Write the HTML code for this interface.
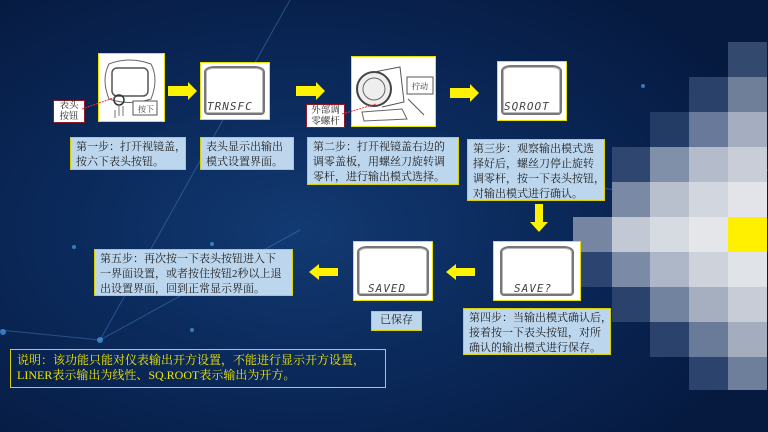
<!DOCTYPE html>
<html><head><meta charset="utf-8"><style>
*{margin:0;padding:0;box-sizing:border-box}
body{width:768px;height:432px;overflow:hidden;position:relative;
background:radial-gradient(ellipse 500px 300px at 300px 230px,#123a72 0%,#0b2a5c 45%,#061a40 100%);
font-family:"Liberation Serif","Noto Serif CJK SC",serif;}
.a{position:absolute}
.img{position:absolute;background:#fff;border:1.5px solid #e8e000}
.scr{position:absolute;border:2px solid #777;border-radius:10px 10px 4px 4px/6px 6px 4px 4px;background:#fff;box-shadow:inset 0 0 0 1px #bbb}
.lcd{position:absolute;font-family:"DejaVu Sans Mono","Liberation Mono",monospace;font-style:italic;color:#444;letter-spacing:1px;font-size:11px}
.tb{position:absolute;background:#bcd6ee;border:1.5px solid #d8d000;color:#222;font-size:11px;line-height:15px;padding:2px 5px;white-space:nowrap;overflow:hidden}
.rb{position:absolute;background:#fff;border:1.5px solid #8b1a2a;color:#222;font-size:9.5px;line-height:11px;text-align:center;white-space:nowrap}
.cell{position:absolute;width:39px;height:35px}
</style></head><body>
<svg class="a" style="left:0;top:0" width="768" height="432">
<g stroke="#4f86c8" stroke-opacity="0.45" stroke-width="1">
<line x1="100" y1="340" x2="290" y2="0"/><line x1="0" y1="330" x2="100" y2="340"/>
<line x1="100" y1="340" x2="300" y2="230"/><line x1="650" y1="195" x2="768" y2="170"/>
<line x1="650" y1="195" x2="480" y2="170"/><line x1="650" y1="195" x2="700" y2="240"/>
<line x1="650" y1="195" x2="580" y2="280"/></g>
<g fill="#4aa0e8" opacity="0.7"><circle cx="100" cy="340" r="3"/><circle cx="3" cy="332" r="3"/><circle cx="74" cy="247" r="2"/><circle cx="212" cy="244" r="2"/><circle cx="643" cy="86" r="2"/><circle cx="650" cy="195" r="3"/><circle cx="192" cy="330" r="2"/></g>
</svg>
<!-- mosaic -->
<div class="cell" style="left:728px;top:42px;background:#33496e"></div>
<div class="cell" style="left:689px;top:77px;background:#2a416a"></div><div class="cell" style="left:728px;top:77px;background:#6f7f9a"></div>
<div class="cell" style="left:650px;top:112px;background:#233c66"></div><div class="cell" style="left:689px;top:112px;background:#68799a"></div><div class="cell" style="left:728px;top:112px;background:#a4aec0"></div>
<div class="cell" style="left:612px;top:147px;background:#2e4670"></div><div class="cell" style="left:650px;top:147px;background:#8090a8"></div><div class="cell" style="left:689px;top:147px;background:#b4bccb"></div><div class="cell" style="left:728px;top:147px;background:#c8cdd8"></div>
<div class="cell" style="left:612px;top:182px;background:#7a8aa5"></div><div class="cell" style="left:650px;top:182px;background:#b8c0ce"></div><div class="cell" style="left:689px;top:182px;background:#d2d6de"></div><div class="cell" style="left:728px;top:182px;background:#e2e4e9"></div>
<div class="cell" style="left:573px;top:217px;background:#7686a2"></div><div class="cell" style="left:612px;top:217px;background:#c3c9d4"></div><div class="cell" style="left:650px;top:217px;background:#d6dae1"></div><div class="cell" style="left:689px;top:217px;background:#e4e6ea"></div><div class="cell" style="left:728px;top:217px;background:#fff000"></div>
<div class="cell" style="left:573px;top:252px;background:#2b4470"></div><div class="cell" style="left:612px;top:252px;background:#7c8ba5"></div><div class="cell" style="left:650px;top:252px;background:#aeb7c7"></div><div class="cell" style="left:689px;top:252px;background:#cdd2db"></div><div class="cell" style="left:728px;top:252px;background:#e0e3e8"></div>
<div class="cell" style="left:612px;top:287px;background:#2a426c"></div><div class="cell" style="left:650px;top:287px;background:#7283a0"></div><div class="cell" style="left:689px;top:287px;background:#a5afc0"></div><div class="cell" style="left:728px;top:287px;background:#c7ccd6"></div>
<div class="cell" style="left:650px;top:322px;background:#2a426c"></div><div class="cell" style="left:689px;top:322px;background:#6a7b99"></div><div class="cell" style="left:728px;top:322px;background:#a3adbe"></div>
<div class="cell" style="left:689px;top:357px;height:33px;background:#2c446d"></div><div class="cell" style="left:728px;top:357px;height:33px;background:#6e7f9c"></div>

<!-- image 1 -->
<div class="img" style="left:98px;top:53px;width:67px;height:69px">
<svg width="64" height="66"><path d="M10 10 Q30 2 52 10 Q60 25 52 45 Q30 52 10 45 Q2 25 10 10Z" fill="none" stroke="#666"/>
<rect x="13" y="14" width="36" height="28" rx="5" fill="none" stroke="#555" stroke-width="1.5"/>
<circle cx="20" cy="46" r="5" fill="none" stroke="#333" stroke-width="1.5"/>
<path d="M20 50 v12 M24 52 v10 M16 56 v8" stroke="#777" fill="none"/>
<rect x="34" y="47" width="24" height="14" fill="#fff" stroke="#555"/><text x="39" y="58" font-size="8" fill="#333">按下</text></svg></div>
<div class="rb" style="left:53px;top:100px;width:32px;height:23px">表头<br>按钮</div>
<svg class="a" style="left:80px;top:95px" width="40" height="20"><line x1="2" y1="14" x2="36" y2="2" stroke="#e33" stroke-dasharray="2,1"/></svg>
<!-- image 2 -->
<div class="img" style="left:200px;top:62px;width:70px;height:58px"><div class="scr" style="left:3px;top:3px;width:61px;height:49px"></div><div class="lcd" style="left:6px;top:37px">TRNSFC</div></div>
<!-- image 3 -->
<div class="img" style="left:351px;top:56px;width:85px;height:71px">
<svg width="82" height="68"><circle cx="22" cy="32" r="17" fill="#eee" stroke="#444" stroke-width="2"/><circle cx="22" cy="32" r="11" fill="none" stroke="#666"/>
<path d="M22 15 L48 10 L52 45 L30 50" fill="none" stroke="#555"/><path d="M10 55 L50 52 L55 62 L12 64Z" fill="none" stroke="#666"/>
<line x1="56" y1="42" x2="72" y2="58" stroke="#555"/>
<rect x="55" y="20" width="26" height="17" fill="#fff" stroke="#555"/><text x="60" y="32" font-size="8" fill="#333">拧动</text></svg></div>
<div class="rb" style="left:306px;top:104px;width:39px;height:24px;padding-top:1px">外部调<br>零螺杆</div>
<svg class="a" style="left:340px;top:100px" width="40" height="20"><line x1="2" y1="14" x2="36" y2="4" stroke="#e33" stroke-dasharray="2,1"/></svg>
<!-- image 4 -->
<div class="img" style="left:497px;top:61px;width:70px;height:60px"><div class="scr" style="left:3px;top:3px;width:61px;height:50px"></div><div class="lcd" style="left:6px;top:38px">SQROOT</div></div>
<!-- SAVE? and SAVED -->
<div class="img" style="left:493px;top:241px;width:88px;height:60px"><div class="scr" style="left:6px;top:4px;width:74px;height:50px"></div><div class="lcd" style="left:20px;top:40px">SAVE?</div></div>
<div class="img" style="left:353px;top:241px;width:80px;height:60px"><div class="scr" style="left:3px;top:4px;width:72px;height:50px"></div><div class="lcd" style="left:14px;top:40px">SAVED</div></div>

<!-- arrows -->
<svg class="a" style="left:0;top:0" width="768" height="432" fill="#fff200">
<polygon points="168,86 188,86 188,82 197,91 188,100 188,96 168,96"/>
<polygon points="296,86 316,86 316,82 325,91 316,100 316,96 296,96"/>
<polygon points="450,88 470,88 470,84 479,93 470,102 470,98 450,98"/>
<polygon points="535,204 543,204 543,222 548,222 539,232 530,222 535,222"/>
<polygon points="475,268 456,268 456,264 446,272 456,280 456,276 475,276"/>
<polygon points="338,268 319,268 319,264 309,272 319,280 319,276 338,276"/>
</svg>

<!-- text boxes -->
<div class="tb" style="left:70px;top:137px;width:116px;height:33px">第一步：打开视镜盖，<br>按六下表头按钮。</div>
<div class="tb" style="left:200px;top:137px;width:94px;height:33px">表头显示出输出<br>模式设置界面。</div>
<div class="tb" style="left:307px;top:137px;width:152px;height:48px">第二步：打开视镜盖右边的<br>调零盖板，用螺丝刀旋转调<br>零杆，进行输出模式选择。</div>
<div class="tb" style="left:467px;top:139px;width:138px;height:62px">第三步：观察输出模式选<br>择好后，螺丝刀停止旋转<br>调零杆，按一下表头按钮，<br>对输出模式进行确认。</div>
<div class="tb" style="left:94px;top:249px;width:199px;height:47px">第五步：再次按一下表头按钮进入下<br>一界面设置，或者按住按钮2秒以上退<br>出设置界面，回到正常显示界面。</div>
<div class="tb" style="left:371px;top:311px;width:51px;height:20px;padding:1px 0;text-align:center">已保存</div>
<div class="tb" style="left:463px;top:308px;width:148px;height:47px">第四步：当输出模式确认后，<br>接着按一下表头按钮，对所<br>确认的输出模式进行保存。</div>
<div class="a" style="left:10px;top:349px;width:376px;height:39px;border:1.5px solid #d8d000;color:#f0e800;font-size:12px;line-height:15px;padding:3px 6px;white-space:nowrap;overflow:hidden">说明：该功能只能对仪表输出开方设置，不能进行显示开方设置，<br>LINER表示输出为线性、SQ.ROOT表示输出为开方。</div>
</body></html>
